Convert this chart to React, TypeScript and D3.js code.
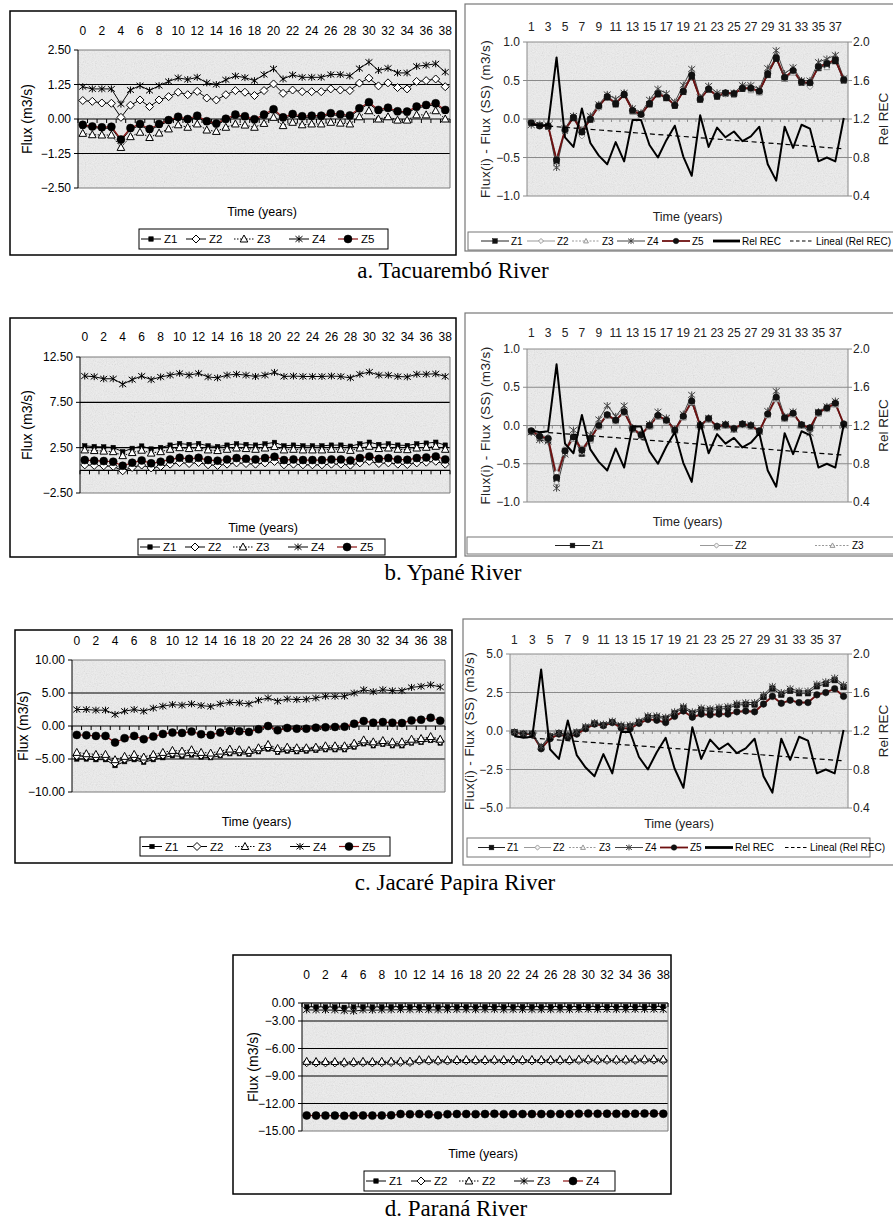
import React from "react";
import * as d3 from "d3";

const FONT = "'Liberation Sans', Arial, sans-serif";
const SERIF = "'Liberation Serif', 'Times New Roman', serif";

// ---------- categories ----------
const yearsLeft = [0, 1, 2, 3, 4, 5, 6, 7, 8, 9, 10, 11, 12, 13, 14, 15, 16, 17, 18, 19, 20, 21, 22, 23, 24, 25, 26, 27, 28, 29, 30, 31, 32, 33, 34, 35, 36, 37, 38];
const yearsRight = [1, 2, 3, 4, 5, 6, 7, 8, 9, 10, 11, 12, 13, 14, 15, 16, 17, 18, 19, 20, 21, 22, 23, 24, 25, 26, 27, 28, 29, 30, 31, 32, 33, 34, 35, 36, 37, 38];
const labelsLeft = [0, 2, 4, 6, 8, 10, 12, 14, 16, 18, 20, 22, 24, 26, 28, 30, 32, 34, 36, 38];
const labelsRight = [1, 3, 5, 7, 9, 11, 13, 15, 17, 19, 21, 23, 25, 27, 29, 31, 33, 35, 37];

// ---------- a. Tacuarembó (left) ----------
const aZ1 = [-0.26, -0.31, -0.34, -0.33, -0.79, -0.38, -0.23, -0.41, -0.23, -0.09, 0.03, -0.05, 0.07, -0.13, -0.21, -0.04, 0.11, 0.05, -0.06, 0.11, 0.30, 0.01, 0.13, 0.05, 0.07, 0.07, 0.16, 0.12, 0.08, 0.34, 0.56, 0.28, 0.36, 0.23, 0.22, 0.40, 0.46, 0.52, 0.28];
const aZ2 = [0.67, 0.64, 0.58, 0.57, 0.06, 0.50, 0.69, 0.45, 0.69, 0.81, 0.97, 0.88, 1.00, 0.76, 0.69, 0.88, 1.03, 0.97, 0.85, 1.03, 1.27, 0.93, 1.05, 0.99, 0.99, 0.99, 1.09, 1.05, 1.03, 1.30, 1.48, 1.20, 1.31, 1.14, 1.09, 1.36, 1.39, 1.45, 1.17];
const aZ3 = [-0.52, -0.57, -0.58, -0.58, -1.03, -0.64, -0.48, -0.67, -0.51, -0.36, -0.21, -0.30, -0.18, -0.40, -0.45, -0.30, -0.18, -0.22, -0.30, -0.16, 0.06, -0.24, -0.12, -0.21, -0.18, -0.18, -0.12, -0.15, -0.18, 0.08, 0.30, 0.00, 0.08, -0.04, -0.04, 0.15, 0.15, 0.30, 0.00];
const aZ4 = [1.17, 1.09, 1.09, 1.09, 0.54, 1.05, 1.21, 1.03, 1.21, 1.36, 1.49, 1.43, 1.51, 1.31, 1.25, 1.42, 1.56, 1.50, 1.39, 1.61, 1.82, 1.45, 1.60, 1.51, 1.51, 1.51, 1.61, 1.61, 1.56, 1.83, 2.06, 1.76, 1.84, 1.67, 1.67, 1.91, 1.95, 2.00, 1.70];
const aZ5 = [-0.21, -0.27, -0.30, -0.28, -0.74, -0.33, -0.18, -0.36, -0.18, -0.04, 0.08, 0.00, 0.12, -0.08, -0.16, 0.01, 0.16, 0.10, -0.01, 0.16, 0.35, 0.06, 0.18, 0.10, 0.12, 0.12, 0.21, 0.17, 0.13, 0.39, 0.61, 0.33, 0.41, 0.28, 0.27, 0.45, 0.51, 0.57, 0.33];

// ---------- a. Tacuarembó (right) ----------
const arZ1 = [-0.05, -0.08, -0.10, -0.55, -0.15, 0.01, -0.18, -0.01, 0.16, 0.28, 0.19, 0.31, 0.10, 0.05, 0.19, 0.32, 0.27, 0.17, 0.35, 0.55, 0.25, 0.38, 0.29, 0.33, 0.32, 0.39, 0.39, 0.35, 0.57, 0.78, 0.52, 0.61, 0.47, 0.46, 0.66, 0.70, 0.75, 0.50];
const arZ2 = [-0.03, -0.09, -0.10, -0.61, -0.17, 0.02, -0.22, 0.02, 0.14, 0.30, 0.21, 0.33, 0.09, 0.02, 0.21, 0.36, 0.30, 0.18, 0.36, 0.60, 0.26, 0.38, 0.32, 0.32, 0.32, 0.42, 0.38, 0.36, 0.63, 0.81, 0.53, 0.64, 0.47, 0.42, 0.69, 0.72, 0.78, 0.50];
const arZ3 = [-0.05, -0.06, -0.06, -0.51, -0.12, 0.04, -0.15, 0.01, 0.16, 0.31, 0.22, 0.34, 0.12, 0.07, 0.22, 0.34, 0.30, 0.22, 0.36, 0.58, 0.28, 0.40, 0.31, 0.34, 0.34, 0.40, 0.37, 0.34, 0.60, 0.82, 0.52, 0.60, 0.48, 0.48, 0.67, 0.67, 0.82, 0.52];
const arZ4 = [-0.08, -0.08, -0.08, -0.63, -0.12, 0.04, -0.14, 0.04, 0.19, 0.32, 0.26, 0.34, 0.14, 0.08, 0.25, 0.39, 0.33, 0.22, 0.44, 0.65, 0.28, 0.43, 0.34, 0.34, 0.34, 0.44, 0.44, 0.39, 0.66, 0.89, 0.59, 0.67, 0.50, 0.50, 0.74, 0.78, 0.83, 0.53];
const arZ5 = [-0.05, -0.09, -0.09, -0.53, -0.14, 0.02, -0.17, 0.00, 0.17, 0.29, 0.20, 0.32, 0.11, 0.06, 0.20, 0.33, 0.28, 0.18, 0.36, 0.57, 0.26, 0.39, 0.30, 0.34, 0.33, 0.40, 0.40, 0.36, 0.59, 0.80, 0.54, 0.63, 0.48, 0.47, 0.68, 0.72, 0.77, 0.51];

// Rel REC (right axis) shared by the three right-hand panels
const relREC = [1.15, 1.13, 1.14, 1.84, 1.01, 0.91, 1.31, 0.95, 0.82, 0.73, 0.96, 0.76, 1.19, 1.19, 0.93, 0.80, 0.98, 1.13, 0.81, 0.61, 1.24, 0.91, 1.11, 1.01, 1.07, 0.97, 1.02, 1.12, 0.73, 0.56, 1.12, 0.90, 1.14, 1.10, 0.76, 0.80, 0.76, 1.21];
// Lineal (Rel REC) trend end values (year 1, year 38)
const relTrend = [1.14, 0.89];

// ---------- b. Ypané (left) ----------
const bZ1 = [2.70, 2.62, 2.58, 2.52, 2.05, 2.42, 2.68, 2.35, 2.52, 2.78, 2.95, 2.85, 2.95, 2.70, 2.62, 2.78, 2.92, 2.85, 2.78, 2.92, 3.08, 2.70, 2.78, 2.70, 2.70, 2.70, 2.78, 2.78, 2.66, 2.92, 3.10, 2.85, 2.92, 2.78, 2.74, 2.92, 3.00, 3.10, 2.78];
const bZ2 = [0.60, 0.54, 0.50, 0.44, -0.05, 0.32, 0.58, 0.26, 0.44, 0.68, 0.86, 0.75, 0.86, 0.61, 0.54, 0.68, 0.82, 0.75, 0.68, 0.82, 0.98, 0.61, 0.68, 0.61, 0.61, 0.61, 0.68, 0.68, 0.57, 0.82, 1.00, 0.75, 0.82, 0.68, 0.64, 0.82, 0.90, 1.00, 0.68];
const bZ3 = [2.25, 2.18, 2.12, 2.06, 1.62, 1.96, 2.22, 1.90, 2.06, 2.32, 2.50, 2.40, 2.50, 2.25, 2.18, 2.32, 2.46, 2.40, 2.32, 2.46, 2.62, 2.25, 2.32, 2.25, 2.25, 2.25, 2.32, 2.32, 2.20, 2.46, 2.65, 2.40, 2.46, 2.32, 2.28, 2.46, 2.54, 2.65, 2.32];
const bZ4 = [10.40, 10.33, 10.10, 10.10, 9.50, 10.00, 10.40, 10.00, 10.30, 10.50, 10.70, 10.50, 10.70, 10.30, 10.20, 10.50, 10.60, 10.50, 10.35, 10.50, 10.80, 10.35, 10.40, 10.35, 10.35, 10.35, 10.40, 10.35, 10.20, 10.60, 10.85, 10.50, 10.50, 10.35, 10.30, 10.60, 10.60, 10.65, 10.35];
const bZ5 = [1.13, 1.06, 1.02, 0.95, 0.50, 0.84, 1.09, 0.77, 0.95, 1.20, 1.38, 1.27, 1.38, 1.13, 1.06, 1.20, 1.35, 1.27, 1.20, 1.35, 1.50, 1.13, 1.20, 1.13, 1.13, 1.13, 1.20, 1.20, 1.09, 1.35, 1.53, 1.27, 1.35, 1.20, 1.16, 1.35, 1.42, 1.53, 1.20];

// ---------- b. Ypané (right) ----------
const brZ1 = [-0.08, -0.16, -0.19, -0.70, -0.35, -0.16, -0.37, -0.18, -0.01, 0.13, 0.06, 0.17, -0.05, -0.13, -0.01, 0.12, 0.06, -0.07, 0.11, 0.30, -0.01, 0.08, -0.02, 0.00, -0.05, 0.01, -0.01, -0.08, 0.14, 0.35, 0.09, 0.15, 0.00, -0.04, 0.16, 0.22, 0.28, 0.01];
const brZ2 = [-0.07, -0.12, -0.15, -0.62, -0.30, -0.12, -0.30, -0.15, 0.02, 0.15, 0.08, 0.18, -0.03, -0.10, 0.01, 0.13, 0.08, -0.05, 0.12, 0.31, 0.01, 0.09, 0.00, 0.02, -0.03, 0.03, 0.01, -0.06, 0.15, 0.36, 0.10, 0.16, 0.02, -0.02, 0.17, 0.22, 0.28, 0.03];
const brZ3 = [-0.08, -0.15, -0.18, -0.74, -0.36, -0.18, -0.35, -0.20, -0.02, 0.12, 0.05, 0.16, -0.06, -0.14, -0.02, 0.11, 0.05, -0.08, 0.10, 0.30, -0.02, 0.07, -0.03, -0.01, -0.06, 0.00, -0.02, -0.09, 0.13, 0.34, 0.08, 0.14, -0.01, -0.05, 0.15, 0.21, 0.27, 0.00];
const brZ4 = [-0.09, -0.19, -0.21, -0.82, -0.38, -0.06, -0.36, -0.12, 0.08, 0.26, 0.12, 0.26, -0.03, -0.14, 0.02, 0.18, 0.10, -0.05, 0.15, 0.40, 0.01, 0.10, -0.02, 0.02, -0.05, 0.02, 0.01, -0.08, 0.19, 0.45, 0.12, 0.18, 0.01, -0.10, 0.18, 0.25, 0.32, 0.00];
const brZ5 = [-0.07, -0.14, -0.17, -0.68, -0.33, -0.15, -0.32, -0.17, 0.00, 0.14, 0.07, 0.18, -0.04, -0.12, 0.00, 0.13, 0.07, -0.06, 0.12, 0.32, 0.00, 0.09, -0.01, 0.01, -0.04, 0.02, 0.00, -0.07, 0.15, 0.37, 0.10, 0.16, 0.01, -0.03, 0.17, 0.23, 0.29, 0.02];

// ---------- c. Jacaré Papira (left) ----------
const cZ1 = [-5.0, -5.0, -5.1, -5.1, -6.0, -5.4, -5.1, -5.5, -5.1, -4.8, -4.5, -4.6, -4.4, -4.7, -4.8, -4.5, -4.2, -4.2, -4.3, -3.9, -3.5, -4.0, -3.8, -3.9, -3.8, -3.7, -3.6, -3.6, -3.6, -3.2, -2.7, -3.0, -2.8, -3.0, -3.0, -2.6, -2.5, -2.2, -2.6];
const cZ2 = [-4.5, -4.6, -4.7, -4.7, -5.6, -5.0, -4.7, -5.1, -4.7, -4.4, -4.1, -4.2, -4.0, -4.4, -4.5, -4.2, -3.9, -3.9, -4.0, -3.6, -3.2, -3.7, -3.5, -3.6, -3.5, -3.4, -3.3, -3.3, -3.3, -2.9, -2.4, -2.7, -2.5, -2.7, -2.7, -2.3, -2.2, -1.9, -2.3];
const cZ3 = [-4.0, -4.2, -4.3, -4.3, -5.1, -4.6, -4.3, -4.7, -4.3, -4.0, -3.7, -3.8, -3.6, -4.0, -4.1, -3.8, -3.5, -3.6, -3.7, -3.3, -2.8, -3.4, -3.2, -3.3, -3.3, -3.2, -3.0, -3.0, -3.0, -2.6, -2.1, -2.4, -2.2, -2.4, -2.4, -2.0, -1.9, -1.6, -2.0];
const cZ4 = [2.5, 2.5, 2.4, 2.4, 1.75, 2.25, 2.5, 2.25, 2.7, 3.0, 3.25, 3.15, 3.35, 3.1, 2.95, 3.35, 3.6, 3.5, 3.35, 3.9, 4.25, 3.75, 4.1, 4.0, 4.05, 4.25, 4.5, 4.5, 4.5, 5.0, 5.5, 5.2, 5.5, 5.35, 5.35, 5.85, 6.0, 6.25, 5.9];
const cZ5 = [-1.35, -1.4, -1.5, -1.5, -2.5, -1.85, -1.5, -2.0, -1.6, -1.2, -1.0, -1.05, -0.85, -1.25, -1.35, -1.0, -0.75, -0.8, -0.9, -0.5, 0.0, -0.65, -0.3, -0.4, -0.4, -0.25, -0.2, -0.15, -0.1, 0.35, 0.75, 0.5, 0.6, 0.5, 0.45, 0.85, 0.95, 1.25, 0.8];

// ---------- c. Jacaré Papira (right) ----------
const crZ1 = [-0.08, -0.18, -0.18, -1.05, -0.35, -0.13, -0.3, -0.1, 0.22, 0.48, 0.38, 0.58, 0.32, 0.3, 0.57, 0.9, 0.9, 0.8, 1.15, 1.5, 1.13, 1.38, 1.33, 1.42, 1.47, 1.68, 1.72, 1.72, 2.2, 2.75, 2.35, 2.6, 2.45, 2.45, 2.9, 3.05, 3.3, 2.85];
const crZ2 = [-0.12, -0.22, -0.22, -1.2, -0.55, -0.24, -0.45, -0.25, 0.1, 0.4, 0.3, 0.5, 0.15, 0.1, 0.45, 0.7, 0.65, 0.5, 0.9, 1.25, 0.85, 1.05, 1.0, 1.05, 1.05, 1.2, 1.25, 1.2, 1.7, 2.2, 1.75, 1.95, 1.8, 1.8, 2.3, 2.45, 2.7, 2.2];
const crZ3 = [-0.07, -0.17, -0.17, -1.02, -0.32, -0.12, -0.28, -0.08, 0.26, 0.5, 0.4, 0.6, 0.35, 0.34, 0.6, 0.94, 0.94, 0.84, 1.2, 1.54, 1.18, 1.43, 1.38, 1.48, 1.52, 1.73, 1.78, 1.78, 2.27, 2.82, 2.42, 2.67, 2.52, 2.52, 2.97, 3.12, 3.37, 2.92];
const crZ4 = [-0.05, -0.15, -0.15, -1.0, -0.3, -0.1, -0.25, -0.05, 0.3, 0.55, 0.45, 0.65, 0.4, 0.4, 0.65, 1.0, 1.0, 0.9, 1.25, 1.6, 1.25, 1.5, 1.45, 1.55, 1.6, 1.8, 1.85, 1.85, 2.35, 2.9, 2.5, 2.75, 2.6, 2.6, 3.05, 3.2, 3.45, 3.0];
const crZ5 = [-0.1, -0.2, -0.2, -1.15, -0.5, -0.2, -0.4, -0.2, 0.15, 0.45, 0.35, 0.55, 0.2, 0.15, 0.5, 0.75, 0.7, 0.55, 0.95, 1.3, 0.9, 1.1, 1.05, 1.1, 1.1, 1.25, 1.3, 1.25, 1.75, 2.25, 1.8, 2.0, 1.85, 1.85, 2.35, 2.5, 2.75, 2.25];

// ---------- d. Paraná ----------
const dZ1 = [-0.62, -0.63, -0.65, -0.65, -0.72, -0.66, -0.63, -0.66, -0.64, -0.62, -0.60, -0.61, -0.60, -0.62, -0.63, -0.61, -0.60, -0.60, -0.61, -0.60, -0.58, -0.61, -0.60, -0.60, -0.60, -0.60, -0.59, -0.59, -0.60, -0.58, -0.56, -0.58, -0.57, -0.58, -0.58, -0.56, -0.56, -0.55, -0.57];
const dZ2d = [-7.55, -7.57, -7.57, -7.57, -7.60, -7.58, -7.55, -7.57, -7.55, -7.53, -7.51, -7.52, -7.37, -7.37, -7.39, -7.37, -7.35, -7.35, -7.36, -7.35, -7.33, -7.35, -7.35, -7.35, -7.35, -7.35, -7.34, -7.34, -7.35, -7.31, -7.28, -7.30, -7.29, -7.31, -7.31, -7.29, -7.28, -7.27, -7.30];
const dZ2t = [-7.40, -7.42, -7.42, -7.42, -7.45, -7.43, -7.40, -7.42, -7.40, -7.38, -7.36, -7.37, -7.22, -7.22, -7.24, -7.22, -7.20, -7.20, -7.21, -7.20, -7.18, -7.20, -7.20, -7.20, -7.20, -7.20, -7.19, -7.19, -7.20, -7.16, -7.13, -7.15, -7.14, -7.16, -7.16, -7.14, -7.13, -7.12, -7.15];
const dZ3 = [-1.15, -1.17, -1.18, -1.18, -1.30, -1.38, -1.16, -1.20, -1.17, -1.14, -1.12, -1.13, -1.12, -1.15, -1.16, -1.14, -1.12, -1.13, -1.14, -1.12, -1.10, -1.14, -1.12, -1.13, -1.13, -1.13, -1.12, -1.12, -1.13, -1.10, -1.07, -1.10, -1.09, -1.11, -1.11, -1.08, -1.08, -1.07, -1.10];
const dZ4 = [-13.30, -13.32, -13.32, -13.32, -13.34, -13.32, -13.30, -13.32, -13.30, -13.28, -13.15, -13.17, -13.15, -13.18, -13.28, -13.17, -13.15, -13.15, -13.16, -13.15, -13.13, -13.16, -13.15, -13.15, -13.15, -13.15, -13.14, -13.14, -13.15, -13.12, -13.10, -13.12, -13.11, -13.13, -13.13, -13.11, -13.10, -13.09, -13.12];

// ---------- styles ----------
const RED = "#8e1414";
const L = {
  Z1: { kind: "square", size: 4.5, fill: "#000", stroke: "#000", line: "#000", dash: undefined as any, lw: 1 },
  Z2: { kind: "diamond", size: 8, fill: "#fff", stroke: "#000", line: "#000", dash: undefined as any, lw: 1 },
  Z3: { kind: "triangle", size: 8, fill: "#fff", stroke: "#000", line: "#000", dash: "1.5,1.5", lw: 1 },
  Z4: { kind: "star", size: 7, fill: "none", stroke: "#000", line: "#000", dash: undefined as any, lw: 1 },
  Z5: { kind: "circle", size: 8, fill: "#000", stroke: "#000", line: RED, dash: undefined as any, lw: 1.2 },
};
const R = {
  Z1: { kind: "square", size: 5.5, fill: "#111", stroke: "#111", line: "#222", dash: undefined as any, lw: 1 },
  Z2: { kind: "diamond", size: 6, fill: "#f4f4f4", stroke: "#999", line: "#999", dash: undefined as any, lw: 1 },
  Z3: { kind: "triangle", size: 6, fill: "#f4f4f4", stroke: "#999", line: "#999", dash: "2,1.5", lw: 1 },
  Z4: { kind: "star", size: 7, fill: "none", stroke: "#444", line: "#444", dash: undefined as any, lw: 1 },
  Z5: { kind: "circle", size: 6.5, fill: "#111", stroke: "#111", line: "#6e1010", dash: undefined as any, lw: 1.8 },
};

function Marker({ kind, x, y, size, fill, stroke, sw = 1 }: any) {
  const h = size / 2;
  if (kind === "square") return <rect x={x - h} y={y - h} width={size} height={size} fill={fill} stroke={stroke} strokeWidth={0.5} />;
  if (kind === "diamond") return <path d={`M${x},${y - h}L${x + h},${y}L${x},${y + h}L${x - h},${y}Z`} fill={fill} stroke={stroke} strokeWidth={sw} />;
  if (kind === "triangle") return <path d={`M${x},${y - h}L${x + h * 0.95},${y + h * 0.75}L${x - h * 0.95},${y + h * 0.75}Z`} fill={fill} stroke={stroke} strokeWidth={sw} />;
  if (kind === "star") return <path d={`M${x - h},${y - h * 0.8}L${x + h},${y + h * 0.8}M${x + h},${y - h * 0.8}L${x - h},${y + h * 0.8}M${x},${y - h}L${x},${y + h}`} fill="none" stroke={stroke} strokeWidth={sw} />;
  return <circle cx={x} cy={y} r={h} fill={fill} stroke={stroke} strokeWidth={0.5} />;
}

function LegendItem({ st, x0, x1, y, label, fs, labelGap = 3, markerScale = 1 }: any) {
  return (
    <g>
      <line x1={x0} x2={x1} y1={y} y2={y} stroke={st.line} strokeWidth={st.lw} strokeDasharray={st.dash} />
      {st.kind ? <Marker kind={st.kind} x={(x0 + x1) / 2} y={y} size={st.size * markerScale} fill={st.fill} stroke={st.stroke} /> : null}
      <text x={x1 + labelGap} y={y + fs * 0.36} fontSize={fs}>{label}</text>
    </g>
  );
}

const leftLegendOffsets = [2, 47, 95, 150, 199];

function LeftPanel({ c }: any) {
  const [bx0, by0, bx1, by1] = c.box;
  const [px0, px1, py0, py1] = c.plot;
  const x = d3.scaleBand<string>().domain(yearsLeft.map(String)).range([px0, px1]);
  const bw = x.bandwidth();
  const cx = (v: number) => (x(String(v)) as number) + bw / 2;
  const y = d3.scaleLinear().domain(c.domain).range(c.range);
  const fmt = d3.format(".2f");
  const ax = y(0);
  const bounds = yearsLeft.map((v) => x(String(v)) as number).concat([px1]);
  const [lx0, ly0, lx1, ly1] = c.legend;
  const ly = (ly0 + ly1) / 2;
  return (
    <g fontFamily={FONT}>
      <rect x={bx0} y={by0} width={bx1 - bx0} height={by1 - by0} fill="#fff" stroke="#000" strokeWidth={1.5} />
      <rect x={px0} y={py0} width={px1 - px0} height={py1 - py0} fill="#efefef" />
      <rect x={px0} y={py0} width={px1 - px0} height={py1 - py0} filter="url(#grain)" opacity={0.3} />
      {c.grid.map((g: number) => (
        <line key={g} x1={px0} x2={px1} y1={y(g)} y2={y(g)} stroke="#000" strokeWidth={1.1} />
      ))}
      <path d={`M${px0},${py0}H${px1}V${py1}H${px0}`} fill="none" stroke="#7a7a7a" strokeWidth={1} />
      <line x1={px0} x2={px0} y1={py0} y2={py1} stroke="#000" strokeWidth={1} />
      {c.ticks.map((t: number) => (
        <g key={t}>
          <line x1={px0 - 4} x2={px0} y1={y(t)} y2={y(t)} stroke="#000" />
          <text x={px0 - 7} y={y(t) + 4} fontSize={12} textAnchor="end">{fmt(t)}</text>
        </g>
      ))}
      <line x1={px0} x2={px1} y1={ax} y2={ax} stroke="#000" strokeWidth={1.1} />
      {bounds.map((b, i) => (
        <line key={i} x1={b} x2={b} y1={ax} y2={ax + 4} stroke="#000" />
      ))}
      {labelsLeft.map((v) => (
        <text key={v} x={cx(v)} y={c.topY} fontSize={12} textAnchor="middle">{v}</text>
      ))}
      {c.series.map((s: any, k: number) => {
        const st = s.st;
        const line = d3.line<number>().x((_, i) => cx(yearsLeft[i])).y((d) => y(d));
        return (
          <g key={k}>
            <path d={line(s.values) || ""} fill="none" stroke={st.line} strokeWidth={st.lw} strokeDasharray={st.dash} />
            {s.values.map((v: number, i: number) => (
              <Marker key={i} kind={st.kind} x={cx(yearsLeft[i])} y={y(v)} size={st.size} fill={st.fill} stroke={st.stroke} />
            ))}
          </g>
        );
      })}
      <text transform={`translate(${c.fluxX},${(py0 + py1) / 2}) rotate(-90)`} fontSize={14} textAnchor="middle">Flux (m3/s)</text>
      <text x={(px0 + px1) / 2 - 2} y={c.timeY} fontSize={12.5} textAnchor="middle">Time (years)</text>
      <rect x={lx0} y={ly0} width={lx1 - lx0} height={ly1 - ly0} fill="#fff" stroke="#000" strokeWidth={1} />
      {c.series.map((s: any, k: number) => (
        <LegendItem key={k} st={s.st} x0={lx0 + leftLegendOffsets[k]} x1={lx0 + leftLegendOffsets[k] + 20} y={ly} label={s.name} fs={11.5} />
      ))}
    </g>
  );
}

function RightPanel({ c }: any) {
  const [bx0, by0, bx1, by1] = c.box;
  const [px0, px1, py0, py1] = c.plot;
  const x = d3.scaleBand<string>().domain(yearsRight.map(String)).range([px0, px1]);
  const bw = x.bandwidth();
  const cx = (v: number) => (x(String(v)) as number) + bw / 2;
  const yL = d3.scaleLinear().domain(c.domain).range([py1, py0]);
  const yR = d3.scaleLinear().domain([0.4, 2.0]).range([py1, py0]);
  const fmt = d3.format(".1f");
  const ax = yL(0);
  const bounds = yearsRight.map((v) => x(String(v)) as number).concat([px1]);
  const relLine = d3.line<number>().x((_, i) => cx(yearsRight[i])).y((d) => yR(d));
  const [lx0, ly0, lx1, ly1] = c.legend;
  const ly = (ly0 + ly1) / 2;
  return (
    <g fontFamily={FONT}>
      <rect x={bx0} y={by0} width={bx1 - bx0} height={by1 - by0} fill="#fff" stroke="#777" strokeWidth={1.2} />
      <rect x={px0} y={py0} width={px1 - px0} height={py1 - py0} fill="#efefef" />
      <rect x={px0} y={py0} width={px1 - px0} height={py1 - py0} filter="url(#grain)" opacity={0.3} />
      {c.ticks.map((t: number) => (
        <line key={t} x1={px0} x2={px1} y1={yL(t)} y2={yL(t)} stroke="#8a8a8a" strokeWidth={1} />
      ))}
      <line x1={px0} x2={px0} y1={py0} y2={py1} stroke="#8a8a8a" />
      <line x1={px1} x2={px1} y1={py0} y2={py1} stroke="#8a8a8a" />
      {c.ticks.map((t: number) => (
        <g key={t}>
          <line x1={px0 - 4} x2={px0} y1={yL(t)} y2={yL(t)} stroke="#8a8a8a" />
          <text x={px0 - 7} y={yL(t) + 4} fontSize={12} textAnchor="end" fill="#222">{fmt(t)}</text>
        </g>
      ))}
      {[0.4, 0.8, 1.2, 1.6, 2.0].map((t) => (
        <g key={t}>
          <line x1={px1} x2={px1 + 4} y1={yR(t)} y2={yR(t)} stroke="#8a8a8a" />
          <text x={px1 + 5} y={yR(t) + 4} fontSize={12} fill="#222">{fmt(t)}</text>
        </g>
      ))}
      <line x1={px0} x2={px1} y1={ax} y2={ax} stroke="#8a8a8a" />
      {bounds.map((b, i) => (
        <line key={i} x1={b} x2={b} y1={ax} y2={ax + 3} stroke="#8a8a8a" />
      ))}
      {labelsRight.map((v) => (
        <text key={v} x={cx(v)} y={c.topY} fontSize={12} textAnchor="middle" fill="#222">{v}</text>
      ))}
      {c.series.map((s: any, k: number) => {
        const st = s.st;
        const line = d3.line<number>().x((_, i) => cx(yearsRight[i])).y((d) => yL(d));
        return (
          <path key={k} d={line(s.values) || ""} fill="none" stroke={st.line} strokeWidth={st.lw} strokeDasharray={st.dash} />
        );
      })}
      {c.series.map((s: any, k: number) => {
        const st = s.st;
        return (
          <g key={k}>
            {s.values.map((v: number, i: number) => (
              <Marker key={i} kind={st.kind} x={cx(yearsRight[i])} y={yL(v)} size={st.size} fill={st.fill} stroke={st.stroke} />
            ))}
          </g>
        );
      })}
      <path d={relLine(relREC) || ""} fill="none" stroke="#000" strokeWidth={2} strokeLinejoin="round" />
      <line x1={cx(yearsRight[0])} x2={cx(yearsRight[yearsRight.length - 1])} y1={yR(relTrend[0])} y2={yR(relTrend[1])} stroke="#000" strokeWidth={1.2} strokeDasharray="5,3.5" />
      <text transform={`translate(${c.fluxX},${(py0 + py1) / 2}) rotate(-90)`} fontSize={13.5} textAnchor="middle" letterSpacing={0.4} fill="#222">Flux(i) - Flux (SS) (m3/s)</text>
      <text transform={`translate(${c.relX},${(py0 + py1) / 2}) rotate(-90)`} fontSize={13.5} textAnchor="middle" fill="#222">Rel REC</text>
      <text x={(px0 + px1) / 2} y={c.timeY} fontSize={12.5} textAnchor="middle" fill="#222">Time (years)</text>
      <rect x={lx0} y={ly0} width={lx1 - lx0} height={ly1 - ly0} fill="#fff" stroke="#777" strokeWidth={1} />
      {c.legendItems.map((it: any, k: number) => (
        <LegendItem key={k} st={it.st} x0={it.x0} x1={it.x1} y={ly} label={it.label} fs={c.legendFs} labelGap={2} markerScale={0.85} />
      ))}
    </g>
  );
}

const RELREC_ST = { kind: null as any, size: 0, fill: "none", stroke: "#000", line: "#000", dash: undefined as any, lw: 2.8 };
const LINEAL_ST = { kind: null as any, size: 0, fill: "none", stroke: "#000", line: "#000", dash: "3.5,2.5", lw: 1.2 };

const fullLegend = (xs: number[][]) => [
  { st: R.Z1, label: "Z1", x0: xs[0][0], x1: xs[0][1] },
  { st: R.Z2, label: "Z2", x0: xs[1][0], x1: xs[1][1] },
  { st: R.Z3, label: "Z3", x0: xs[2][0], x1: xs[2][1] },
  { st: R.Z4, label: "Z4", x0: xs[3][0], x1: xs[3][1] },
  { st: R.Z5, label: "Z5", x0: xs[4][0], x1: xs[4][1] },
  { st: RELREC_ST, label: "Rel REC", x0: xs[5][0], x1: xs[5][1] },
  { st: LINEAL_ST, label: "Lineal (Rel REC)", x0: xs[6][0], x1: xs[6][1] },
];

const panelAL = {
  box: [10, 11, 456, 255], plot: [78, 450, 50, 188], domain: [-2.5, 2.5], range: [188, 50],
  ticks: [-2.5, -1.25, 0, 1.25, 2.5], grid: [-1.25, 1.25], topY: 35, fluxX: 32, timeY: 216,
  legend: [139, 229, 388, 249],
  series: [
    { name: "Z1", values: aZ1, st: L.Z1 }, { name: "Z2", values: aZ2, st: L.Z2 }, { name: "Z3", values: aZ3, st: L.Z3 },
    { name: "Z4", values: aZ4, st: L.Z4 }, { name: "Z5", values: aZ5, st: L.Z5 },
  ],
};
const panelBL = {
  box: [10, 318, 456, 557], plot: [80, 450, 357, 493], domain: [-2.5, 12.5], range: [493, 357],
  ticks: [-2.5, 2.5, 7.5, 12.5], grid: [2.5, 7.5], topY: 341, fluxX: 32, timeY: 532,
  legend: [138, 539, 385, 555],
  series: [
    { name: "Z1", values: bZ1, st: L.Z1 }, { name: "Z2", values: bZ2, st: L.Z2 }, { name: "Z3", values: bZ3, st: L.Z3 },
    { name: "Z4", values: bZ4, st: L.Z4 }, { name: "Z5", values: bZ5, st: L.Z5 },
  ],
};
const panelCL = {
  box: [15, 630, 452, 863], plot: [72, 445, 660, 792], domain: [-10, 10], range: [792, 660],
  ticks: [-10, -5, 0, 5, 10], grid: [-5, 5], topY: 645, fluxX: 28, timeY: 826,
  legend: [140, 837, 390, 856],
  series: [
    { name: "Z1", values: cZ1, st: L.Z1 }, { name: "Z2", values: cZ2, st: L.Z2 }, { name: "Z3", values: cZ3, st: L.Z3 },
    { name: "Z4", values: cZ4, st: L.Z4 }, { name: "Z5", values: cZ5, st: L.Z5 },
  ],
};
const panelD = {
  box: [233, 955, 671, 1194], plot: [302, 668, 1003, 1131], domain: [-15, -3, 0], range: [1131, 1021, 1003],
  ticks: [-15, -12, -9, -6, -3, 0], grid: [-12, -9, -6, -3], topY: 979, fluxX: 258, timeY: 1158,
  legend: [364, 1171, 615, 1191],
  series: [
    { name: "Z1", values: dZ1, st: L.Z1 }, { name: "Z2", values: dZ2d, st: L.Z2 }, { name: "Z2", values: dZ2t, st: L.Z3 },
    { name: "Z3", values: dZ3, st: L.Z4 }, { name: "Z4", values: dZ4, st: L.Z5 },
  ],
};

const panelAR = {
  box: [465, 4, 897, 251], plot: [527, 848, 42, 196], domain: [-1, 1], ticks: [-1, -0.5, 0, 0.5, 1],
  topY: 31, fluxX: 490, relX: 888, timeY: 221, legend: [468, 232, 897, 250], legendFs: 10,
  series: [
    { values: arZ1, st: R.Z1 }, { values: arZ2, st: R.Z2 }, { values: arZ3, st: R.Z3 },
    { values: arZ4, st: R.Z4 }, { values: arZ5, st: R.Z5 },
  ],
  legendItems: fullLegend([[481, 509], [527, 555], [572, 600], [617, 645], [662, 690], [713, 740], [790, 814]]),
};
const panelBR = {
  box: [465, 313, 897, 556], plot: [527, 848, 349, 502], domain: [-1, 1], ticks: [-1, -0.5, 0, 0.5, 1],
  topY: 337, fluxX: 490, relX: 888, timeY: 526, legend: [467, 537, 897, 554], legendFs: 10,
  series: [
    { values: brZ1, st: R.Z1 }, { values: brZ2, st: R.Z2 }, { values: brZ3, st: R.Z3 },
    { values: brZ4, st: R.Z4 }, { values: brZ5, st: R.Z5 },
  ],
  legendItems: [
    { st: R.Z1, label: "Z1", x0: 555, x1: 590 },
    { st: R.Z2, label: "Z2", x0: 700, x1: 733 },
    { st: R.Z3, label: "Z3", x0: 815, x1: 850 },
  ],
};
const panelCR = {
  box: [463, 619, 897, 865], plot: [510, 848, 654, 808], domain: [-5, 5], ticks: [-5, -2.5, 0, 2.5, 5],
  topY: 644, fluxX: 474, relX: 888, timeY: 828, legend: [467, 838, 870, 857], legendFs: 10,
  series: [
    { values: crZ2, st: R.Z2 }, { values: crZ5, st: R.Z5 }, { values: crZ3, st: R.Z3 },
    { values: crZ1, st: R.Z1 }, { values: crZ4, st: R.Z4 },
  ],
  legendItems: fullLegend([[478, 505], [524, 551], [569, 597], [615, 643], [660, 688], [705, 733], [785, 808]]),
};

export default function App() {
  return (
    <svg width={893} height={1223} style={{ position: "absolute", left: 0, top: 0, background: "#fff" }}>
      <defs>
        <filter id="grain" x="0" y="0" width="1" height="1">
          <feTurbulence type="fractalNoise" baseFrequency="0.9" numOctaves="2" seed="4" />
          <feColorMatrix type="saturate" values="0" />
        </filter>
      </defs>
      <rect x={0} y={0} width={893} height={1223} fill="#fff" />
      <LeftPanel c={panelAL} />
      <RightPanel c={panelAR} />
      <LeftPanel c={panelBL} />
      <RightPanel c={panelBR} />
      <LeftPanel c={panelCL} />
      <RightPanel c={panelCR} />
      <LeftPanel c={panelD} />
      <g fontFamily={SERIF} fontSize={23} textAnchor="middle">
        <text x={453} y={278}>a. Tacuarembó River</text>
        <text x={453} y={580}>b. Ypané River</text>
        <text x={455} y={890}>c. Jacaré Papira River</text>
        <text x={456} y={1216}>d. Paraná River</text>
      </g>
    </svg>
  );
}
